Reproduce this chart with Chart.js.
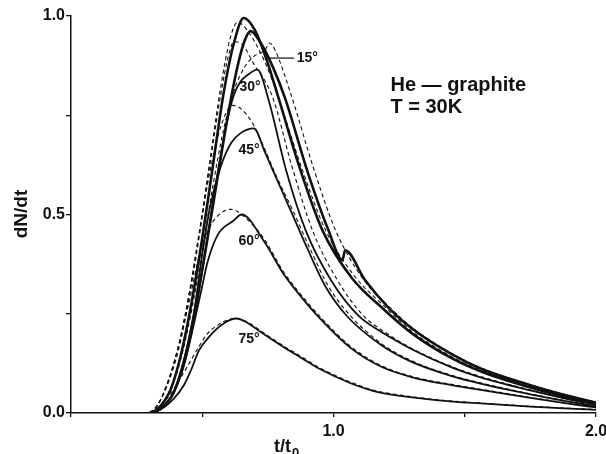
<!DOCTYPE html>
<html>
<head>
<meta charset="utf-8">
<script src="https://cdn.jsdelivr.net/npm/chart.js@4.4.1/dist/chart.umd.min.js"></script>
<style>
  body { margin: 0; background: #fff; }
  #wrap { width: 606px; height: 454px; }
</style>
</head>
<body>
<div id="wrap"><canvas id="myChart" width="606" height="454"></canvas></div>
<script>
// axis ticks
const xTicks = [1.0, 2.0];
const yTicks = [0.0, 0.5, 1.0];

// curves: [t/t0, dN/dt]
// solid = measured, dashed = calculated
const solid0 = [[0.30,0],[0.33,0.01],[0.38,0.06],[0.42,0.15],[0.46,0.28],[0.50,0.44],[0.54,0.62],[0.58,0.80],[0.62,0.93],[0.658,0.995],[0.70,0.965],[0.745,0.89],[0.79,0.795],[0.87,0.62],[0.958,0.46],[1.07,0.34],[1.19,0.262],[1.30,0.20],[1.45,0.138],[1.56,0.105],[1.75,0.064],[1.90,0.037],[2.0,0.022]];
const dashed0 = [[0.30,0],[0.33,0.02],[0.37,0.08],[0.41,0.17],[0.45,0.30],[0.49,0.46],[0.53,0.64],[0.57,0.82],[0.605,0.94],[0.635,0.985],[0.67,0.965],[0.72,0.91],[0.76,0.85],[0.80,0.775],[0.88,0.615],[0.97,0.46],[1.08,0.345],[1.20,0.265],[1.30,0.205],[1.45,0.142],[1.56,0.108],[1.75,0.066],[1.90,0.038],[2.0,0.023]];
const solid15 = [[0.30,0],[0.34,0.01],[0.39,0.05],[0.43,0.13],[0.47,0.25],[0.51,0.40],[0.55,0.56],[0.59,0.72],[0.63,0.86],[0.66,0.935],[0.684,0.962],[0.72,0.935],[0.77,0.87],[0.817,0.79],[0.90,0.61],[0.981,0.46],[1.034,0.385],[1.044,0.41],[1.12,0.335],[1.21,0.265],[1.30,0.212],[1.45,0.148],[1.56,0.112],[1.75,0.07],[1.90,0.042],[2.0,0.026]];
const dashed15 = [[0.30,0],[0.34,0.015],[0.38,0.06],[0.42,0.14],[0.46,0.26],[0.50,0.41],[0.54,0.57],[0.58,0.71],[0.62,0.81],[0.66,0.87],[0.70,0.90],[0.74,0.915],[0.757,0.932],[0.78,0.91],[0.844,0.79],[0.92,0.625],[1.008,0.46],[1.11,0.34],[1.22,0.262],[1.30,0.215],[1.45,0.15],[1.56,0.114],[1.75,0.071],[1.90,0.043],[2.0,0.027]];
const solid30 = [[0.30,0],[0.34,0.01],[0.39,0.05],[0.43,0.12],[0.47,0.24],[0.51,0.40],[0.55,0.57],[0.59,0.72],[0.62,0.80],[0.646,0.835],[0.67,0.85],[0.71,0.865],[0.753,0.788],[0.82,0.61],[0.894,0.46],[0.99,0.335],[1.095,0.245],[1.18,0.205],[1.30,0.16],[1.45,0.115],[1.56,0.09],[1.75,0.057],[1.90,0.034],[2.0,0.021]];
const dashed30 = [[0.30,0],[0.33,0.02],[0.37,0.075],[0.41,0.16],[0.45,0.29],[0.49,0.45],[0.53,0.63],[0.57,0.80],[0.60,0.90],[0.62,0.935],[0.65,0.93],[0.70,0.875],[0.74,0.835],[0.772,0.788],[0.84,0.625],[0.92,0.46],[1.01,0.34],[1.114,0.245],[1.20,0.202],[1.30,0.162],[1.45,0.117],[1.56,0.092],[1.75,0.058],[1.90,0.035],[2.0,0.022]];
const solid45 = [[0.30,0],[0.34,0.01],[0.39,0.05],[0.43,0.13],[0.47,0.26],[0.50,0.40],[0.53,0.52],[0.57,0.62],[0.61,0.68],[0.646,0.705],[0.696,0.717],[0.74,0.655],[0.77,0.61],[0.837,0.51],[0.90,0.415],[0.97,0.318],[1.05,0.245],[1.18,0.172],[1.30,0.128],[1.45,0.093],[1.56,0.074],[1.75,0.047],[1.90,0.028],[2.0,0.017]];
const dashed45 = [[0.30,0],[0.33,0.02],[0.37,0.08],[0.41,0.17],[0.45,0.30],[0.49,0.46],[0.53,0.61],[0.57,0.72],[0.615,0.775],[0.65,0.765],[0.696,0.725],[0.74,0.662],[0.78,0.60],[0.845,0.51],[0.91,0.415],[0.98,0.32],[1.06,0.248],[1.18,0.176],[1.30,0.131],[1.45,0.095],[1.56,0.076],[1.75,0.048],[1.90,0.029],[2.0,0.018]];
const solid60 = [[0.30,0],[0.34,0.01],[0.39,0.05],[0.43,0.12],[0.47,0.23],[0.50,0.32],[0.52,0.38],[0.56,0.45],[0.62,0.485],[0.65,0.50],[0.734,0.434],[0.81,0.35],[0.88,0.29],[0.95,0.237],[1.065,0.164],[1.18,0.117],[1.30,0.09],[1.45,0.07],[1.56,0.058],[1.75,0.038],[1.90,0.023],[2.0,0.014]];
const dashed60 = [[0.30,0],[0.33,0.02],[0.37,0.08],[0.41,0.17],[0.45,0.28],[0.49,0.40],[0.53,0.47],[0.57,0.503],[0.61,0.513],[0.65,0.50],[0.734,0.44],[0.81,0.355],[0.88,0.295],[0.95,0.242],[1.065,0.168],[1.18,0.12],[1.30,0.092],[1.45,0.072],[1.56,0.06],[1.75,0.039],[1.90,0.024],[2.0,0.015]];
const solid75 = [[0.30,0],[0.34,0.008],[0.39,0.035],[0.43,0.07],[0.456,0.106],[0.487,0.157],[0.53,0.195],[0.58,0.225],[0.63,0.238],[0.67,0.228],[0.72,0.205],[0.80,0.17],[0.875,0.14],[0.95,0.11],[1.065,0.075],[1.15,0.056],[1.255,0.043],[1.40,0.032],[1.56,0.024],[1.75,0.016],[1.90,0.011],[2.0,0.008]];
const dashed75 = [[0.30,0],[0.33,0.012],[0.37,0.04],[0.41,0.08],[0.45,0.125],[0.49,0.17],[0.52,0.20],[0.56,0.222],[0.60,0.235],[0.63,0.238],[0.67,0.23],[0.72,0.208],[0.80,0.173],[0.875,0.143],[0.95,0.113],[1.065,0.078],[1.15,0.058],[1.255,0.045],[1.40,0.033],[1.56,0.025],[1.75,0.017],[1.90,0.012],[2.0,0.009]];

const ink = '#111';
const font = 'Liberation Sans, Arial, Helvetica, sans-serif';

function toPts(arr) {
    return arr.map(p => ({ x: p[0], y: p[1] }));
}

function curve(arr, dashed, heavy) {
    return {
        data: toPts(arr),
        showLine: true,
        borderColor: ink,
        borderWidth: dashed ? 1.1 : (heavy ? 2.6 : 1.8),
        borderDash: dashed ? [4, 3] : [],
        pointRadius: 0,
        cubicInterpolationMode: 'monotone',
        fill: false
    };
}

// texts on the plot (labels of the angles, title box, axis titles)
const labelsPlugin = {
    id: 'labels',
    afterDraw(chart) {
        const ctx = chart.ctx;
        const xs = chart.scales.x;
        const ys = chart.scales.y;
        ctx.save();
        ctx.fillStyle = ink;
        ctx.strokeStyle = ink;

        // leader line for 15°
        ctx.lineWidth = 1.2;
        ctx.beginPath();
        ctx.moveTo(xs.getPixelForValue(0.75), ys.getPixelForValue(0.894));
        ctx.lineTo(xs.getPixelForValue(0.85), ys.getPixelForValue(0.894));
        ctx.stroke();

        ctx.font = 'bold 14px ' + font;
        ctx.textBaseline = 'middle';
        ctx.textAlign = 'left';
        ctx.fillText('15°', xs.getPixelForValue(0.86), ys.getPixelForValue(0.894));
        ctx.fillText('30°', xs.getPixelForValue(0.642), ys.getPixelForValue(0.82));
        ctx.fillText('45°', xs.getPixelForValue(0.638), ys.getPixelForValue(0.662));
        ctx.fillText('60°', xs.getPixelForValue(0.638), ys.getPixelForValue(0.432));
        ctx.fillText('75°', xs.getPixelForValue(0.638), ys.getPixelForValue(0.187));

        ctx.font = 'bold 20px ' + font;
        ctx.fillText('He — graphite', xs.getPixelForValue(1.217), ys.getPixelForValue(0.825));
        ctx.fillText('T = 30K', xs.getPixelForValue(1.217), ys.getPixelForValue(0.77));

        // x axis title t/t0
        ctx.textBaseline = 'alphabetic';
        ctx.font = 'bold 18px ' + font;
        ctx.fillText('t/t', 274, 452);
        const w = ctx.measureText('t/t').width;
        ctx.font = 'bold 13px ' + font;
        ctx.fillText('0', 274 + w + 1, 457);

        // y axis title
        ctx.translate(22, 214);
        ctx.rotate(-Math.PI / 2);
        ctx.font = 'bold 19px ' + font;
        ctx.textAlign = 'center';
        ctx.textBaseline = 'middle';
        ctx.fillText('dN/dt', 0, 0);
        ctx.restore();
    }
};

const ctx = document.getElementById('myChart').getContext('2d');
const myChart = new Chart(ctx, {
    type: 'scatter',
    data: {
        datasets: [
            curve(dashed0, true), curve(solid0, false, true),
            curve(dashed15, true), curve(solid15, false, true),
            curve(dashed30, true), curve(solid30, false),
            curve(dashed45, true), curve(solid45, false),
            curve(dashed60, true), curve(solid60, false),
            curve(dashed75, true), curve(solid75, false)
        ]
    },
    options: {
        responsive: false,
        animation: false,
        devicePixelRatio: 1,
        layout: { padding: { top: 16, right: 10, bottom: 0, left: 0 } },
        plugins: { legend: { display: false }, tooltip: { enabled: false } },
        scales: {
            x: {
                type: 'linear',
                min: 0, max: 2,
                afterFit(s) { s.height = 41; s.paddingLeft = 0; s.paddingRight = 0; },
                border: { display: true, color: ink, width: 1.5 },
                grid: { drawOnChartArea: false, drawTicks: true, tickLength: 4, color: ink, lineWidth: 1.3 },
                ticks: {
                    stepSize: 0.5,
                    autoSkip: false,
                    maxRotation: 0,
                    padding: 5,
                    color: ink,
                    font: { family: font, size: 16, weight: 'bold' },
                    callback: v => xTicks.includes(v) ? v.toFixed(1) : ''
                }
            },
            y: {
                type: 'linear',
                min: 0, max: 1,
                afterFit(s) { s.width = 71; s.paddingTop = 0; s.paddingBottom = 0; },
                border: { display: true, color: ink, width: 1.5 },
                grid: { drawOnChartArea: false, drawTicks: true, tickLength: 5, color: ink, lineWidth: 1.3 },
                ticks: {
                    stepSize: 0.25,
                    autoSkip: false,
                    padding: 1,
                    color: ink,
                    font: { family: font, size: 16, weight: 'bold' },
                    callback: v => yTicks.includes(v) ? v.toFixed(1) : ''
                }
            }
        }
    },
    plugins: [labelsPlugin]
});
</script>
</body>
</html>
